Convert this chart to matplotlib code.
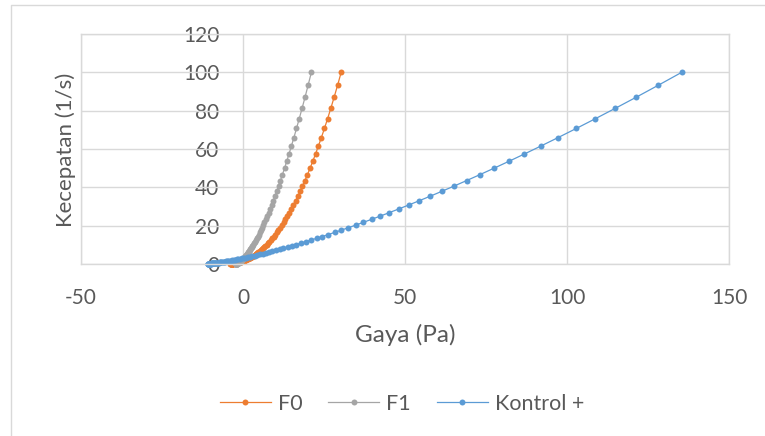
import matplotlib
matplotlib.use("Agg")
import matplotlib.pyplot as plt
from matplotlib.lines import Line2D

plt.rcParams['font.family'] = ['Lato', 'DejaVu Sans']
plt.rcParams['axes.unicode_minus'] = False

# Shear rate (Kecepatan, 1/s) - shared by all series
kecepatan = [100, 93.3, 87.05, 81.22, 75.78, 70.70, 65.96, 61.54, 57.42, 53.57,
             49.98, 46.63, 43.51, 40.59, 37.87, 35.34, 32.97, 30.76, 28.70, 26.78,
             24.98, 23.31, 21.75, 20.29, 18.93, 17.66, 16.48, 15.37, 14.34, 13.38,
             12.49, 11.65, 10.87, 10.14, 9.46, 8.83, 8.24, 7.69, 7.17, 6.69,
             6.24, 5.82, 5.43, 5.07, 4.73, 4.41, 4.12, 3.84, 3.58, 3.34,
             3.12, 2.91, 2.72, 2.53, 2.36, 2.21, 2.06, 1.92, 1.79, 1.67,
             1.56, 1.46, 1.36, 1.27, 1.18, 1.10, 1.03, 0.96, 0.90, 0.84,
             0.78, 0.73, 0.68, 0.63, 0.59, 0.55, 0.51, 0.48, 0.45, 0.42,
             0.39, 0.36, 0.34, 0.32, 0.30, 0.28, 0.26, 0.24, 0.22, 0.21,
             0.20, 0.18, 0.17, 0.16, 0.15, 0.14, 0.13, 0.12, 0.11, 0.10]

# Shear stress (Gaya, Pa)
gaya_f0 = [30.30, 29.20, 28.13, 27.10, 26.10, 25.13, 24.19, 23.27, 22.39, 21.53,
           20.70, 19.90, 19.12, 18.36, 17.63, 16.92, 16.23, 15.56, 14.91, 14.29,
           13.68, 13.09, 12.52, 11.96, 11.43, 10.91, 10.40, 9.91, 9.44, 8.98,
           8.54, 8.11, 7.69, 7.28, 6.89, 6.51, 6.14, 5.78, 5.44, 5.10,
           4.77, 4.46, 4.15, 3.86, 3.57, 3.29, 3.02, 2.76, 2.50, 2.26,
           2.02, 1.79, 1.56, 1.35, 1.14, 0.93, 0.73, 0.54, 0.36, 0.18,
           0.00, -0.17, -0.33, -0.49, -0.64, -0.79, -0.94, -1.08, -1.21, -1.34,
           -1.47, -1.60, -1.72, -1.83, -1.95, -2.05, -2.16, -2.26, -2.36, -2.46,
           -2.55, -2.64, -2.73, -2.82, -2.90, -2.98, -3.06, -3.13, -3.20, -3.27,
           -3.34, -3.41, -3.47, -3.54, -3.60, -3.65, -3.71, -3.77, -3.82, -3.87]

gaya_f1 = [21.10, 20.10, 19.15, 18.23, 17.35, 16.51, 15.71, 14.94, 14.20, 13.50,
           12.82, 12.17, 11.55, 10.96, 10.39, 9.84, 9.32, 8.82, 8.34, 7.88,
           7.44, 7.02, 6.62, 6.24, 5.87, 5.51, 5.17, 4.85, 4.54, 4.24,
           3.96, 3.68, 3.42, 3.17, 2.93, 2.70, 2.48, 2.27, 2.07, 1.88,
           1.69, 1.51, 1.34, 1.18, 1.03, 0.88, 0.73, 0.60, 0.47, 0.34,
           0.22, 0.11, 0.00, -0.11, -0.21, -0.31, -0.40, -0.49, -0.57, -0.66,
           -0.73, -0.81, -0.88, -0.95, -1.01, -1.08, -1.14, -1.20, -1.25, -1.30,
           -1.35, -1.40, -1.45, -1.49, -1.54, -1.58, -1.62, -1.65, -1.69, -1.72,
           -1.76, -1.79, -1.82, -1.85, -1.87, -1.90, -1.93, -1.95, -1.97, -2.00,
           -2.02, -2.04, -2.06, -2.08, -2.09, -2.11, -2.13, -2.14, -2.16, -2.17]

gaya_kontrol = [135.4, 128.22, 121.4, 114.9, 108.72, 102.85, 97.25, 91.93, 86.88, 82.06,
                77.48, 73.13, 68.99, 65.05, 61.3, 57.73, 54.34, 51.11, 48.04, 45.12,
                42.34, 39.7, 37.18, 34.79, 32.52, 30.35, 28.29, 26.33, 24.47, 22.7,
                21.01, 19.41, 17.88, 16.43, 15.05, 13.74, 12.49, 11.3, 10.17, 9.1,
                8.07, 7.1, 6.17, 5.29, 4.45, 3.66, 2.9, 2.18, 1.49, 0.84,
                0.22, -0.37, -0.93, -1.47, -1.97, -2.46, -2.92, -3.36, -3.77, -4.17,
                -4.55, -4.9, -5.24, -5.57, -5.88, -6.17, -6.45, -6.72, -6.97, -7.21,
                -7.44, -7.65, -7.86, -8.06, -8.25, -8.42, -8.59, -8.75, -8.91, -9.05,
                -9.19, -9.32, -9.45, -9.57, -9.68, -9.79, -9.89, -9.99, -10.08, -10.17,
                -10.26, -10.34, -10.41, -10.48, -10.55, -10.62, -10.68, -10.74, -10.8, -10.85]

series_names = ['F0', 'F1', 'Kontrol +']
series_colors = ['#ED7D31', '#A5A5A5', '#5B9BD5']
x_ticks = [-50, 0, 50, 100, 150]
y_ticks = [0, 20, 40, 60, 80, 100, 120]
x_label = 'Gaya (Pa)'
y_label = 'Kecepatan (1/s)'

W, H = 765, 436
fig = plt.figure(figsize=(W / 100, H / 100), dpi=100)
ax = fig.add_axes([81 / W, 1 - 264 / H, (729 - 81) / W, (264 - 34) / H])

text_color = '#595959'
grid_color = '#D9D9D9'
fs = 15

for xs, name, col in zip([gaya_f0, gaya_f1, gaya_kontrol], series_names, series_colors):
    ax.plot(xs, kecepatan, color=col, lw=0.9, marker='o', ms=4.3,
            markeredgewidth=0, label=name, clip_on=False)

ax.set_xlim(-50, 150)
ax.set_ylim(0, 120)
ax.set_xticks(x_ticks)
ax.set_yticks(y_ticks)
ax.grid(True, color=grid_color, lw=1.0)
ax.set_axisbelow(True)
for sp in ax.spines.values():
    sp.set_color(grid_color)
    sp.set_linewidth(1.0)
ax.tick_params(axis='x', length=0, pad=17, labelsize=fs, labelcolor=text_color)
ax.tick_params(axis='y', length=0, labelleft=False)

sec = ax.secondary_yaxis(0.25)
sec.set_yticks(y_ticks)
sec.spines['left'].set_visible(False)
sec.tick_params(axis='y', length=0, pad=17, labelsize=fs, labelcolor=text_color)

fig.text(405 / W, 1 - 335 / H, x_label, ha='center', va='center',
         fontsize=17.5, color=text_color)
fig.text(66 / W, 1 - 150 / H, y_label, ha='center', va='center',
         rotation=90, fontsize=16, color=text_color)

handles, labels = ax.get_legend_handles_labels()
fig.legend(handles, labels, loc='center', bbox_to_anchor=(402 / W, 1 - 404 / H),
           ncol=3, frameon=False, fontsize=15.5, labelcolor=text_color,
           handlelength=2.37, handletextpad=0.33, columnspacing=1.2, numpoints=1)

fig.add_artist(Line2D([11 / W, 11 / W, 1.0], [0.0, 1 - 5 / H, 1 - 5 / H],
                      transform=fig.transFigure, color=grid_color, lw=1.0))

fig.savefig('out.png', dpi=100)
